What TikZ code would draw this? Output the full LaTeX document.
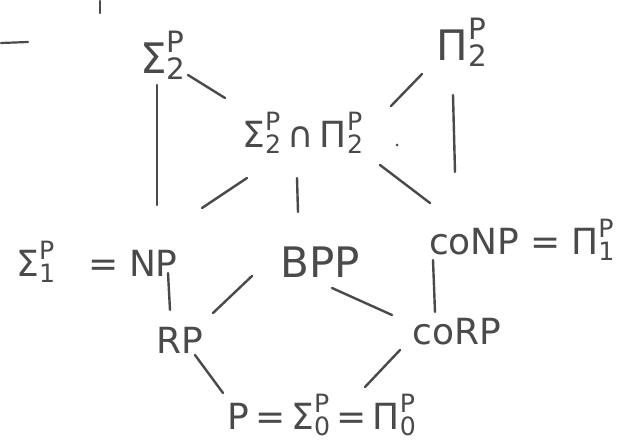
\documentclass[tikz,border=0pt]{standalone}
\usepackage{amsmath}
\usepackage{fontspec}
\setmainfont{DejaVu Sans}
\definecolor{pencil}{HTML}{4A4A4A}
\newcommand\cls[3]{\ensuremath{\text{#1}^{\text{#2}}_{\text{#3}}}}
\begin{document}
\begin{tikzpicture}[x=1pt,y=-1pt,
  cx/.style={text=pencil,inner sep=0pt,font=\fontsize{36}{40}\selectfont},
  big/.style={font=\fontsize{42}{46}\selectfont},
  edge/.style={draw=pencil,line width=2.4pt,line cap=round},
  stray/.style={draw=pencil,line width=2.2pt,line cap=round}]
\useasboundingbox (0,0) rectangle (624,442);
\node[cx,big] (s2) at (163,55) {\cls{Σ}{P}{2}};
\node[cx,big] (p2) at (462,42) {\cls{Π}{P}{2}};
\node[cx] (s2p2) at (303,133) {\cls{Σ}{P}{2}\,∩\,\cls{Π}{P}{2}};
\node[cx] (np) at (97,262) {\cls{Σ}{P}{1}\hspace{0.9em}=\hspace{0.3em}NP};
\node[cx,big] (bpp) at (320,262) {BPP};
\node[cx] (conp) at (522,240) {coNP\hspace{0.3em}=\hspace{0.3em}\cls{Π}{P}{1}};
\node[cx] (rp) at (180,340) {RP};
\node[cx] (corp) at (457,332) {coRP};
\node[cx] (p) at (322,415) {P\,=\,\cls{Σ}{P}{0}\,=\,\cls{Π}{P}{0}};
% connectors
\draw[edge] ([shift={(25,20)}]s2.center) -- ([shift={(-78,-35)}]s2p2.center);
\draw[edge] ([shift={(-6,30)}]s2.center) -- ([shift={(60,-57)}]np.center);
\draw[edge] ([shift={(-56,45)}]s2p2.center) -- ([shift={(105,-54)}]np.center);
\draw[edge] ([shift={(-6,45)}]s2p2.center) -- ([shift={(-22,-50)}]bpp.center);
\draw[edge] ([shift={(88,-27)}]s2p2.center) -- ([shift={(-40,32)}]p2.center);
\draw[edge] ([shift={(77,32)}]s2p2.center) -- ([shift={(-92,-37)}]conp.center);
\draw[edge] ([shift={(-9,53)}]p2.center) -- ([shift={(-67,-68)}]conp.center);
\draw[edge] ([shift={(71,11)}]np.center) -- ([shift={(-10,-30)}]rp.center);
\draw[edge] ([shift={(-68,14)}]bpp.center) -- ([shift={(33,-27)}]rp.center);
\draw[edge] ([shift={(15,15)}]rp.center) -- ([shift={(-99,-22)}]p.center);
\draw[edge] ([shift={(12,26)}]bpp.center) -- ([shift={(-65,-17)}]corp.center);
\draw[edge] ([shift={(-89,20)}]conp.center) -- ([shift={(-22,-20)}]corp.center);
\draw[edge] ([shift={(-57,18)}]corp.center) -- ([shift={(43,-28)}]p.center);
% stray pencil marks
\draw[stray] (1,43) -- (28,42);
\draw[stray] (100,1) -- (100,13);
\fill[pencil] (397,145) circle (1.5);
\end{tikzpicture}
\end{document}
